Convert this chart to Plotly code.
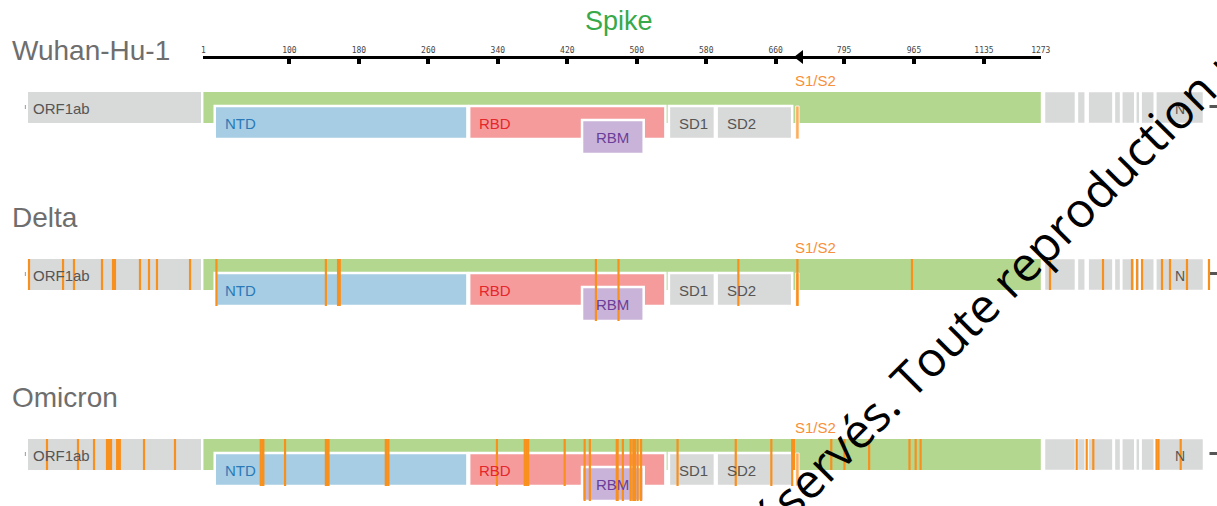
import plotly.graph_objects as go

# ------------------------------------------------------------------ data
variants = ["Wuhan-Hu-1", "Delta", "Omicron"]

spike_ticks_s1 = [1, 100, 180, 260, 340, 420, 500, 580, 660]
spike_ticks_s2 = [795, 965, 1135, 1273]
spike_len = 1273
spike_break = 688          # residue where the ruler changes scale

domain_names = ["NTD", "RBD", "SD1", "SD2", "S1/S2"]
domain_start = [14, 307, 537, 592, 683]
domain_end = [305, 533, 590, 679, 687]
rbm_start, rbm_end = 437, 508

orf1ab_start, orf1ab_end = 266, 21555
utr5_start, utr5_end = 1, 265
genes_3p = ["ORF3a", "E", "M", "ORF6", "ORF7a", "ORF7b", "ORF8", "N"]
gene_start = [25393, 26245, 26523, 27202, 27394, 27756, 27894, 28274]
gene_end = [26220, 26472, 27191, 27387, 27759, 27887, 28259, 29533]
utr3_start, utr3_end = 29675, 29903

# mutations: ORF1ab (nt), Spike (aa), 3' genes (nt)
mut_orf1ab = {
    "Wuhan-Hu-1": [],
    "Delta": [510, 4650, 5980, 9390, 10730, 10970, 14010, 15110, 16080, 20100],
    "Omicron": [2700, 6470, 8420, 10000, 10240, 10490, 11230, 11400, 11560, 14500, 18270],
}
mut_spike = {
    "Wuhan-Hu-1": [],
    "Delta": [16, 142, 156, 157, 158, 453, 479, 617, 685, 960],
    "Omicron": [67, 69, 70, 95, 142, 143, 144, 145, 211, 212, 214, 339, 371, 373, 375,
                417, 440, 446, 477, 478, 484, 493, 496, 498, 501, 505, 547, 614, 655,
                679, 681, 764, 796, 856, 954, 969, 981],
}
mut_3p = {
    "Wuhan-Hu-1": [],
    "Delta": [25548, 26920, 27670, 27799, 27929, 28446, 28653, 29093, 29662],
    "Omicron": [26239, 26498, 26669, 28305, 28355, 28930],
}

# ------------------------------------------------------------------ layout constants
W, H = 1217, 506
ROW_TOP = [92, 259, 439]
RULER_Y = 57

C_GREEN = "#B3D78F"
C_GREY = "#D8D9D9"
C_ORANGE = "#F8901E"
DOM_FILL = ["#A6CDE3", "#F59B9B", "#D8D9D9", "#D8D9D9", "#FBAE5C"]
DOM_LW = [2.5, 2.5, 2.5, 2.5, 0.8]
DOM_TEXT = ["#2A7AB8", "#E5262B", "#555555", "#555555", None]
C_RBM = "#C9B3D8"
C_RBM_TXT = "#6B3E9A"
FONT = "Arial, Liberation Sans, sans-serif"


def axis_range(px_a, val_a, px_b, val_b, px_lo, px_hi):
    s = (px_b - px_a) / (val_b - val_a)
    return [val_a - (px_a - px_lo) / s, val_b + (px_hi - px_b) / s]


x3_dom = (16, 204)
x3_rng = axis_range(27, orf1ab_start, 202, orf1ab_end, *x3_dom)
x4_dom = (1040, 1217)
x4_rng = axis_range(1044, gene_start[0], 1204, gene_end[-1], *x4_dom)

fig = go.Figure()
shapes = []
annotations = []


def rect(xref, x0, x1, y0, y1, fill, lw=0, lc="white"):
    shapes.append(dict(type="rect", xref=xref, yref="y", x0=x0, x1=x1, y0=y0, y1=y1,
                       fillcolor=fill, line=dict(width=lw, color=lc), layer="below"))


def spike_bottom(v, top):
    b = top + 31
    for s, e in zip(domain_start, domain_end):
        if s <= v <= e:
            b = max(b, top + 47)
    if rbm_start <= v <= rbm_end:
        b = max(b, top + 62)
    return b


for vi, var in enumerate(variants):
    top = ROW_TOP[vi]
    # genome blocks
    rect("x3", utr5_start, utr5_end, top + 13, top + 17, "#A8A8A8")
    rect("x3", orf1ab_start, orf1ab_end, top - 1, top + 32, C_GREY, 2, "white")
    for gs, ge in zip(gene_start, gene_end):
        rect("x4", gs, ge, top - 1, top + 32, C_GREY, 2.5, "white")
    rect("x4", utr3_start, utr3_end, top + 13, top + 16, "#555555")
    # spike
    rect("x", 1, spike_break, top, top + 31, C_GREEN)
    rect("x2", spike_break, spike_len, top, top + 31, C_GREEN)
    for i, (s, e) in enumerate(zip(domain_start, domain_end)):
        rect("x", s, e, top + 14, top + 47, DOM_FILL[i], DOM_LW[i], "white")
    rect("x", rbm_start, rbm_end, top + 28, top + 62, C_RBM, 2.5, "white")

    # mutation lines
    def add_lines(xs, bottoms, xaxis):
        if not xs:
            fig.add_trace(go.Scatter(x=[None], y=[None], xaxis=xaxis, yaxis="y",
                                     mode="lines", showlegend=False, hoverinfo="skip"))
            return
        lx, ly = [], []
        for x, b in zip(xs, bottoms):
            lx += [x, x, None]
            ly += [top, b, None]
        fig.add_trace(go.Scatter(x=lx, y=ly, xaxis=xaxis, yaxis="y", mode="lines",
                                 line=dict(color=C_ORANGE, width=2.2),
                                 showlegend=False, hoverinfo="skip"))

    add_lines(mut_orf1ab[var], [top + 31] * len(mut_orf1ab[var]), "x3")
    s1 = [v for v in mut_spike[var] if v <= spike_break]
    s2 = [v for v in mut_spike[var] if v > spike_break]
    add_lines(s1, [spike_bottom(v, top) for v in s1], "x")
    add_lines(s2, [spike_bottom(v, top) for v in s2], "x2")
    add_lines(mut_3p[var], [top + 31] * len(mut_3p[var]), "x4")

    # texts
    annotations.append(dict(text=var, xref="paper", yref="y", x=10 / W, y=top - 42,
                            xanchor="left", yanchor="middle", showarrow=False,
                            font=dict(family=FONT, size=28, color="#6E6E6E")))
    annotations.append(dict(text="ORF1ab", xref="x3", yref="y", x=orf1ab_start, xshift=4,
                            y=top + 16, xanchor="left", yanchor="middle", showarrow=False,
                            font=dict(family=FONT, size=15, color="#555555")))
    for i, name in enumerate(domain_names[:4]):
        annotations.append(dict(text=name, xref="x", yref="y", x=domain_start[i], xshift=8,
                                y=top + 31, xanchor="left", yanchor="middle", showarrow=False,
                                font=dict(family=FONT, size=15, color=DOM_TEXT[i])))
    annotations.append(dict(text="RBM", xref="x", yref="y", x=(rbm_start + rbm_end) / 2,
                            y=top + 45, xanchor="center", yanchor="middle", showarrow=False,
                            font=dict(family=FONT, size=15, color=C_RBM_TXT)))
    annotations.append(dict(text="N", xref="x4", yref="y", x=(gene_start[-1] + gene_end[-1]) / 2,
                            y=top + 17, xanchor="center", yanchor="middle", showarrow=False,
                            font=dict(family=FONT, size=14, color="#555555")))
    annotations.append(dict(text="S1/S2", xref="x", yref="y", x=domain_start[4], xshift=-3,
                            y=top - 12, xanchor="left", yanchor="middle", showarrow=False,
                            font=dict(family=FONT, size=15, color="#F8903A")))

# ruler break marker
fig.add_trace(go.Scatter(x=[spike_break], y=[RULER_Y], xaxis="x2", yaxis="y", mode="markers",
                         marker=dict(symbol="triangle-left", size=12, color="black"),
                         cliponaxis=False, showlegend=False, hoverinfo="skip"))

annotations.append(dict(text="Spike", xref="paper", yref="y", x=619 / W, y=21,
                        xanchor="center", yanchor="middle", showarrow=False,
                        font=dict(family=FONT, size=27, color="#37A94A")))
annotations.append(dict(text="Tous droits réservés. Toute reproduction non autorisée",
                        xref="paper", yref="paper", x=998 / W, y=1 - 288 / H,
                        xanchor="center", yanchor="middle", textangle=-45, showarrow=False,
                        font=dict(family="Open Sans", size=48, color="black")))

ruler_common = dict(anchor="free", position=1 - RULER_Y / H, side="top", showline=True,
                    linecolor="black", linewidth=3, ticks="inside", ticklen=5, tickwidth=4,
                    tickcolor="black", tickmode="array", showgrid=False, zeroline=False,
                    tickfont=dict(family="DejaVu Sans Mono", size=8, color="#444444"),
                    fixedrange=True, ticklabelstandoff=0, automargin=False)

fig.update_layout(
    width=W, height=H, margin=dict(l=0, r=0, t=0, b=0, pad=0, autoexpand=False),
    paper_bgcolor="white", plot_bgcolor="rgba(0,0,0,0)", showlegend=False, hovermode=False,
    xaxis=dict(domain=[203 / W, 800 / W], range=[0.5, spike_break],
               tickvals=spike_ticks_s1, ticktext=[str(v) for v in spike_ticks_s1], **ruler_common),
    xaxis2=dict(domain=[800 / W, 1041 / W], range=[spike_break, spike_len + 0.5],
                tickvals=spike_ticks_s2, ticktext=[str(v) for v in spike_ticks_s2], **ruler_common),
    xaxis3=dict(domain=[x3_dom[0] / W, x3_dom[1] / W], range=x3_rng, anchor="y", visible=False),
    xaxis4=dict(domain=[x4_dom[0] / W, x4_dom[1] / W], range=x4_rng, anchor="y", visible=False),
    yaxis=dict(domain=[0, 1], range=[H, 0], visible=False, anchor="x3"),
    shapes=shapes, annotations=annotations,
)

fig.write_html("out.html", config={"displayModeBar": False, "staticPlot": True},
               post_script="document.body.style.margin='0';document.body.style.padding='0';")
